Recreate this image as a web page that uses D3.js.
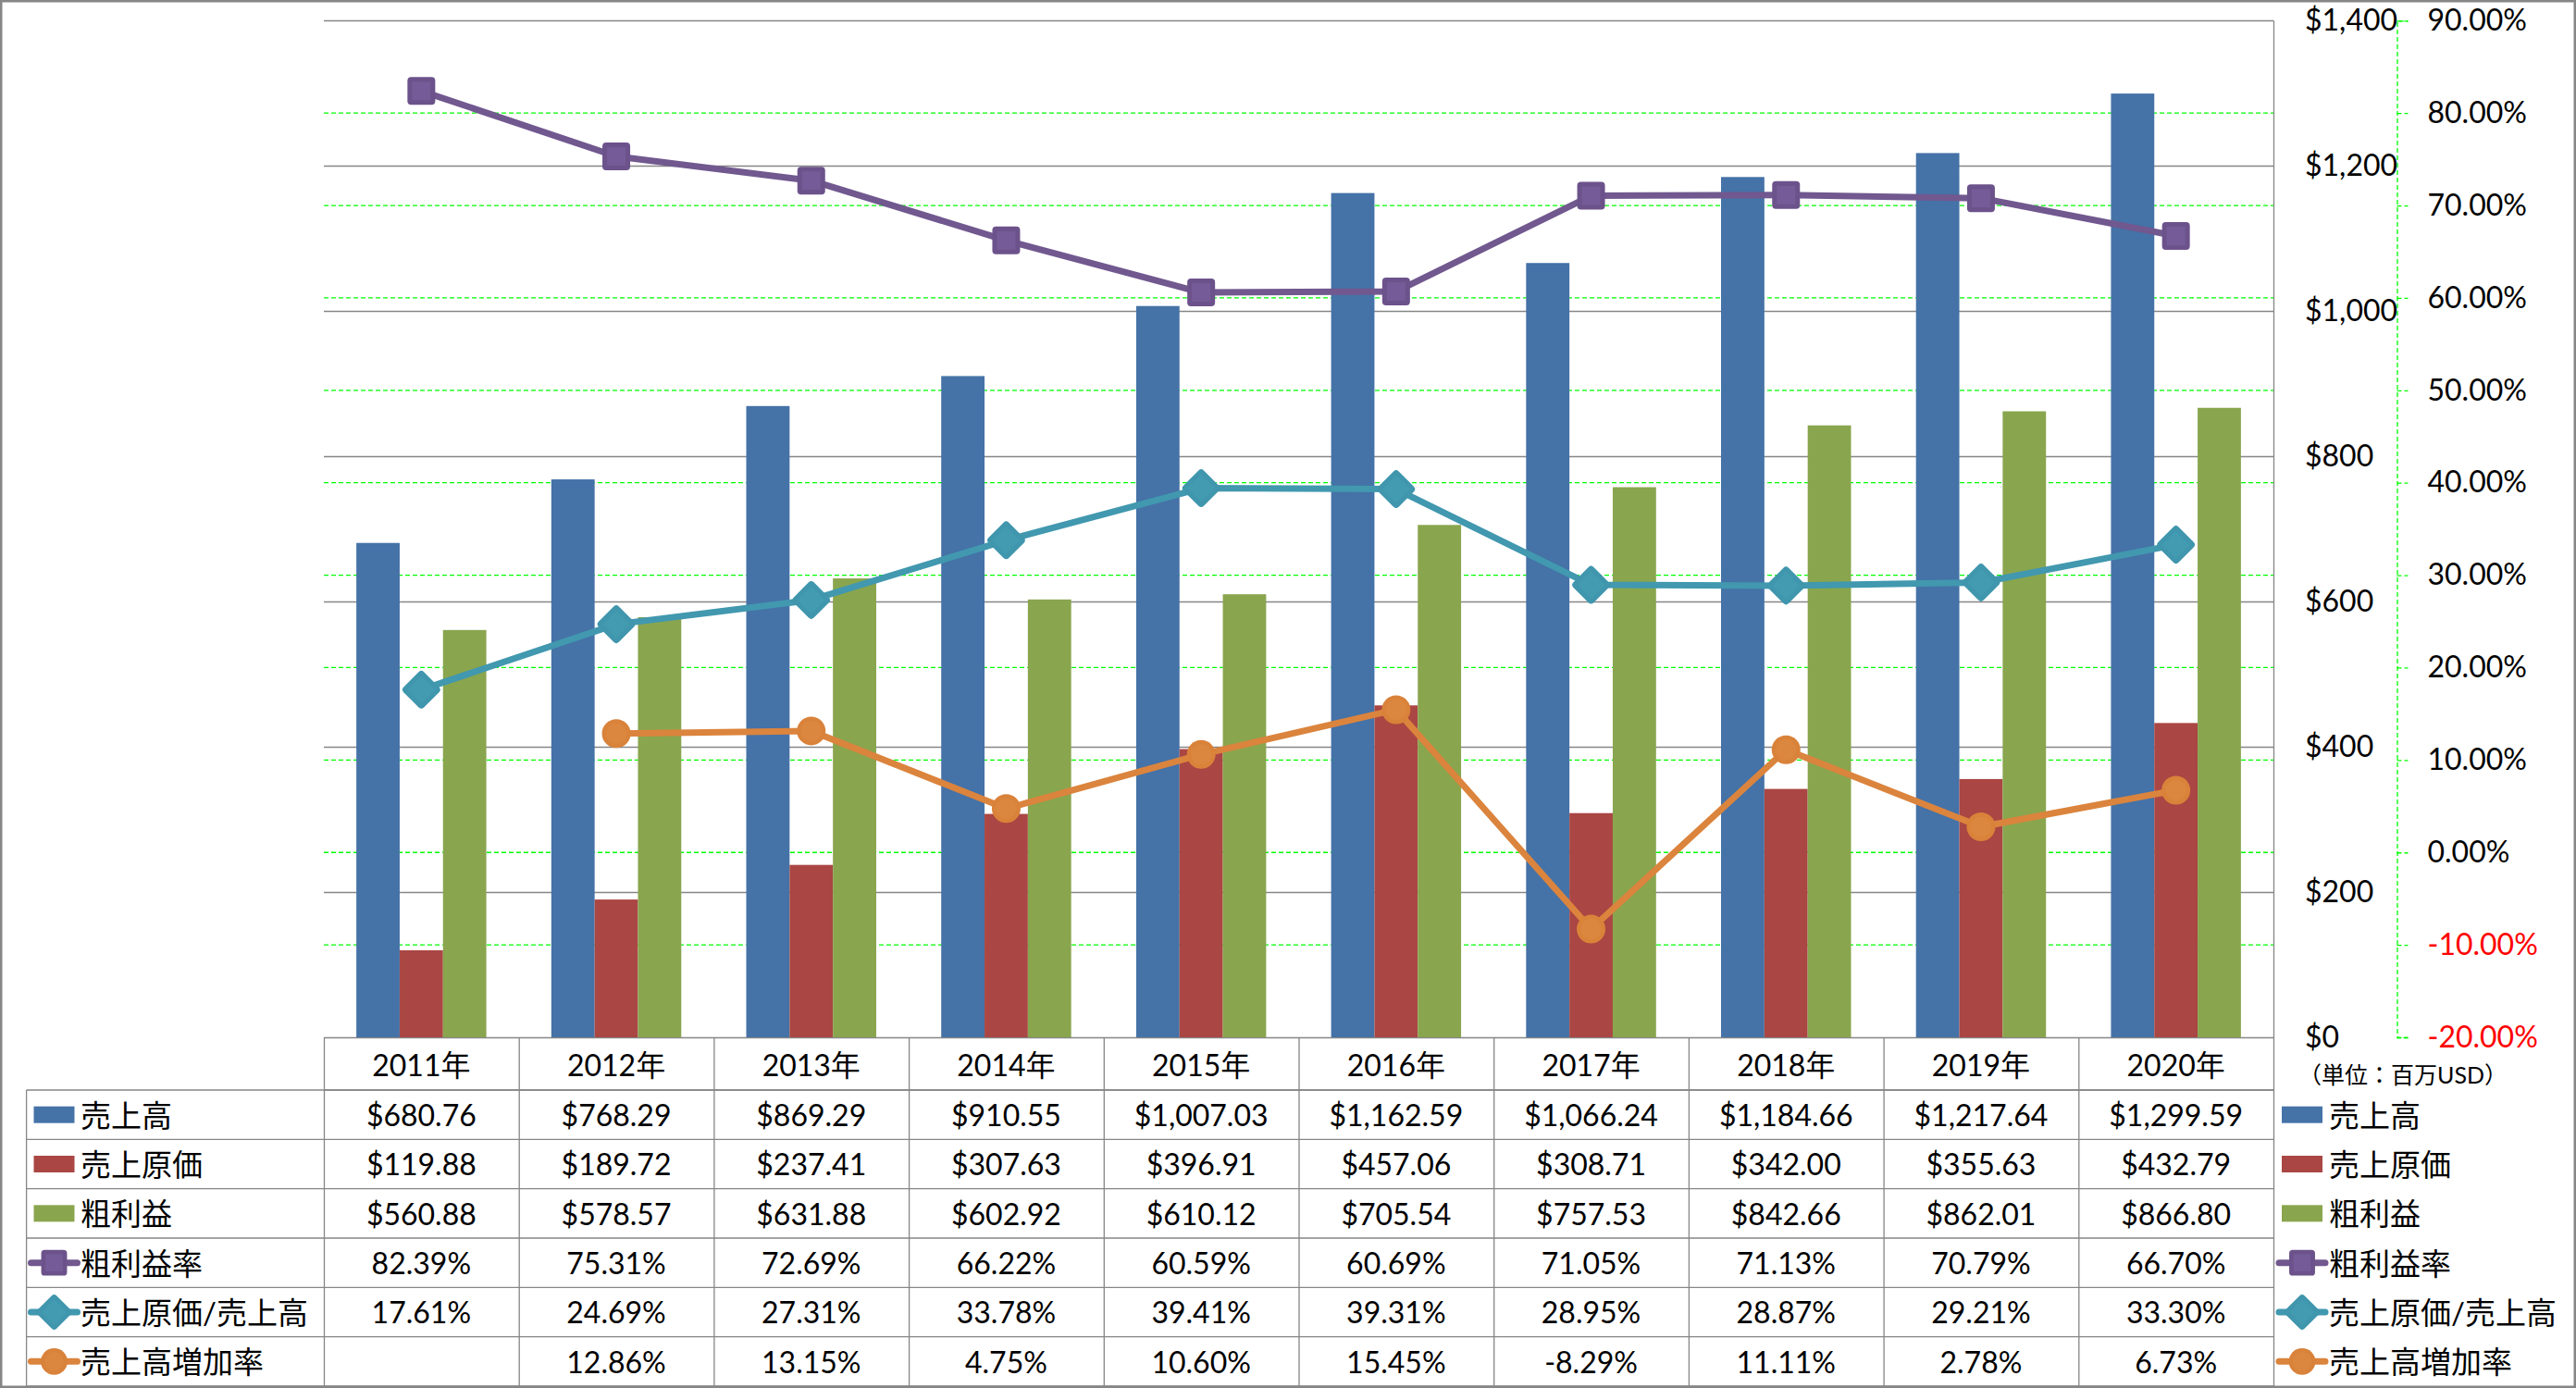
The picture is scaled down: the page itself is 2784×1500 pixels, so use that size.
<!DOCTYPE html>
<html><head><meta charset="utf-8">
<script src="https://cdn.jsdelivr.net/npm/d3@7"></script>
<style>
html,body{margin:0;padding:0;background:#fff;}
svg{display:block;}
text{font-family:Lato,"Noto Sans CJK JP",sans-serif;}
</style></head>
<body>
<svg id="chart" width="2784" height="1500"></svg>
<script>
// ---------- DATA ----------
const years = ["2011年","2012年","2013年","2014年","2015年","2016年","2017年","2018年","2019年","2020年"];
const sales = [680.76, 768.29, 869.29, 910.55, 1007.03, 1162.59, 1066.24, 1184.66, 1217.64, 1299.59];
const cogs = [119.88, 189.72, 237.41, 307.63, 396.91, 457.06, 308.71, 342.00, 355.63, 432.79];
const gross = [560.88, 578.57, 631.88, 602.92, 610.12, 705.54, 757.53, 842.66, 862.01, 866.80];
const grossMargin = [82.39, 75.31, 72.69, 66.22, 60.59, 60.69, 71.05, 71.13, 70.79, 66.70];
const cogsRatio = [17.61, 24.69, 27.31, 33.78, 39.41, 39.31, 28.95, 28.87, 29.21, 33.30];
const salesGrowth = [null, 12.86, 13.15, 4.75, 10.60, 15.45, -8.29, 11.11, 2.78, 6.73];
const barNames = ["売上高","売上原価","粗利益"];
const lineNames = ["粗利益率","売上原価/売上高","売上高増加率"];
const dollarTicks = [0, 200, 400, 600, 800, 1000, 1200, 1400];
const pctTicks = [-20, -10, 0, 10, 20, 30, 40, 50, 60, 70, 80, 90];
const unitLabel = "（単位：百万USD）";

// ---------- STYLE ----------
const barColors = ["#4572a7", "#aa4643", "#89a54e"];
const lineColors = ["#71588f", "#4198af", "#db843d"];
const gridGray = "#868686";
const gridGreen = "#00ff00";

const svg = d3.select("#chart");
const W = 2784, H = 1500;
const plotL = 350, plotR = 2457, plotT = 22.3, plotB = 1121;
const headerB = 1178, tableB = 1498;
const rowH = (tableB - headerB) / 6;
const labelL = 28.6;

const x = d3.scaleBand().domain(years).range([plotL, plotR]);
const xi = d3.scaleBand().domain(barNames).range([0, x.bandwidth()]).paddingInner(0).paddingOuter(0.75);
const yL = d3.scaleLinear().domain([0, 1400]).range([plotB, plotT]);
const yR = d3.scaleLinear().domain([-20, 90]).range([plotB, plotT]);

const barSeries = [sales, cogs, gross];
const lineSeries = [grossMargin, cogsRatio, salesGrowth];

svg.append("rect").attr("width", W).attr("height", H).attr("fill", "#fff");

// green dashed gridlines (percent axis)
svg.append("g").selectAll("line").data(pctTicks.filter(d => d > -20 && d < 90)).join("line")
  .attr("x1", plotL).attr("x2", plotR)
  .attr("y1", d => yR(d)).attr("y2", d => yR(d))
  .attr("stroke", gridGreen).attr("stroke-width", 1.3).attr("stroke-dasharray", "5,3");

// gray gridlines (dollar axis)
svg.append("g").selectAll("line").data(dollarTicks).join("line")
  .attr("x1", plotL).attr("x2", plotR)
  .attr("y1", d => Math.round(yL(d)) + 0.5).attr("y2", d => Math.round(yL(d)) + 0.5)
  .attr("stroke", gridGray).attr("stroke-width", 1.3);

// bars
barSeries.forEach((vals, si) => {
  svg.append("g").selectAll("rect").data(vals).join("rect")
    .attr("x", (d, i) => x(years[i]) + xi(barNames[si]))
    .attr("width", xi.bandwidth())
    .attr("y", d => yL(d))
    .attr("height", d => plotB - yL(d))
    .attr("fill", barColors[si]);
});

// plot right edge line
svg.append("line").attr("x1", plotR + 0.5).attr("x2", plotR + 0.5).attr("y1", plotT).attr("y2", tableB)
  .attr("stroke", gridGray).attr("stroke-width", 1.3);

// marker drawers
function drawMarker(g, type, cx, cy, color, s) {
  s = s || 1;
  if (type === 0) {
    const a = 30 * s;
    g.append("rect").attr("x", cx - a / 2).attr("y", cy - a / 2).attr("width", a).attr("height", a)
      .attr("rx", 4 * s).attr("fill", "#6c528b");
    g.append("rect").attr("x", cx - a / 2 + 5 * s).attr("y", cy - a / 2 + 5 * s).attr("width", a - 10 * s).attr("height", a - 10 * s)
      .attr("fill", "#755b97");
  } else if (type === 1) {
    const a = 31 * s;
    g.append("rect").attr("x", -a / 2).attr("y", -a / 2).attr("width", a).attr("height", a)
      .attr("rx", 4 * s).attr("fill", "#3f96ad")
      .attr("transform", `translate(${cx},${cy}) rotate(45)`);
    g.append("rect").attr("x", -a / 2 + 5 * s).attr("y", -a / 2 + 5 * s).attr("width", a - 10 * s).attr("height", a - 10 * s)
      .attr("fill", "#439bb2")
      .attr("transform", `translate(${cx},${cy}) rotate(45)`);
  } else {
    g.append("circle").attr("cx", cx).attr("cy", cy).attr("r", 15.5 * s).attr("fill", "#d9823a");
    g.append("circle").attr("cx", cx).attr("cy", cy).attr("r", 11 * s).attr("fill", "#dc873f");
  }
}

// lines
lineSeries.forEach((vals, si) => {
  const pts = vals.map((v, i) => ({ v, i })).filter(p => p.v !== null);
  const line = d3.line().x(p => x(years[p.i]) + x.bandwidth() / 2).y(p => yR(p.v));
  svg.append("path").datum(pts).attr("d", line).attr("fill", "none")
    .attr("stroke", lineColors[si]).attr("stroke-width", 7).attr("stroke-linejoin", "round");
  const g = svg.append("g");
  pts.forEach(p => drawMarker(g, si, x(years[p.i]) + x.bandwidth() / 2, yR(p.v), lineColors[si]));
});

// dollar axis labels (left aligned)
const axL = svg.append("g").attr("transform", "translate(2491,0)")
  .call(d3.axisRight(yL).tickValues(dollarTicks).tickSize(0).tickPadding(0).tickFormat(d3.format("$,")));
axL.select(".domain").remove();
axL.selectAll("text").attr("font-size", 32).attr("fill", "#000").attr("font-family", "Lato,'Noto Sans CJK JP',sans-serif");

// percent axis
const axR = svg.append("g").attr("transform", "translate(2590.5,0)")
  .call(d3.axisRight(yR).tickValues(pctTicks).tickSize(12).tickPadding(21).tickFormat(d => d.toFixed(2) + "%"));
axR.select(".domain").attr("stroke", gridGreen).attr("stroke-width", 1.3).attr("stroke-dasharray", "5,3");
axR.selectAll(".tick line").attr("stroke", gridGreen).attr("stroke-width", 1.3).attr("stroke-dasharray", "5,3");
axR.selectAll("text").attr("font-size", 32).attr("font-family", "Lato,'Noto Sans CJK JP',sans-serif")
  .attr("fill", d => d < 0 ? "#ff0000" : "#000");

// unit label
svg.append("text").attr("x", 2484).attr("y", 1162).attr("dy", "0.35em")
  .attr("font-size", 25).attr("font-family", "'Noto Sans CJK JP',sans-serif").text(unitLabel);

// ---------- DATA TABLE ----------
const tg = svg.append("g");
const lineAttr = sel => sel.attr("stroke", gridGray).attr("stroke-width", 1.3);
// header row lines
lineAttr(tg.append("line").attr("x1", plotL).attr("x2", plotR).attr("y1", headerB).attr("y2", headerB));
for (let r = 0; r <= 6; r++) {
  const yy = headerB + r * rowH;
  lineAttr(tg.append("line").attr("x1", labelL).attr("x2", plotR).attr("y1", yy).attr("y2", yy));
}
lineAttr(tg.append("line").attr("x1", labelL).attr("x2", labelL).attr("y1", headerB).attr("y2", tableB));
years.forEach(yv => {
  lineAttr(tg.append("line").attr("x1", x(yv) + 0.5).attr("x2", x(yv) + 0.5).attr("y1", plotB).attr("y2", tableB));
});

// header texts
tg.selectAll("text.hdr").data(years).join("text").attr("class", "hdr")
  .attr("x", d => x(d) + x.bandwidth() / 2).attr("y", (plotB + headerB) / 2 + 2).attr("dy", "0.35em")
  .attr("text-anchor", "middle").attr("font-size", 32).text(d => d);

const fmtD = d3.format("$,.2f");
const fmtP = d => d === null ? "" : d.toFixed(2) + "%";
const rows = [
  { vals: sales, f: fmtD }, { vals: cogs, f: fmtD }, { vals: gross, f: fmtD },
  { vals: grossMargin, f: fmtP }, { vals: cogsRatio, f: fmtP }, { vals: salesGrowth, f: fmtP }
];
rows.forEach((row, r) => {
  const cy = headerB + (r + 0.5) * rowH;
  tg.append("g").selectAll("text").data(row.vals).join("text")
    .attr("x", (d, i) => x(years[i]) + x.bandwidth() / 2).attr("y", cy + 1).attr("dy", "0.35em")
    .attr("text-anchor", "middle").attr("font-size", 32).text(d => row.f(d));
});

// legend keys (table left and right legend)
const allNames = barNames.concat(lineNames);
function legendKey(g, idx, cx, cy) {
  if (idx < 3) {
    g.append("rect").attr("x", cx - 22).attr("y", cy - 9).attr("width", 44).attr("height", 18).attr("fill", barColors[idx]);
  } else {
    const li = idx - 3;
    g.append("line").attr("x1", cx - 25).attr("x2", cx + 25).attr("y1", cy).attr("y2", cy)
      .attr("stroke", lineColors[li]).attr("stroke-width", 7).attr("stroke-linecap", "round");
    drawMarker(g, li, cx, cy, lineColors[li], 0.93);
  }
}
allNames.forEach((name, idx) => {
  const cy = headerB + (idx + 0.5) * rowH;
  const g1 = svg.append("g");
  legendKey(g1, idx, 58.5, cy);
  g1.append("text").attr("x", 87).attr("y", cy + 1).attr("dy", "0.36em").attr("font-size", 33)
    .attr("font-family", "'Noto Sans CJK JP',sans-serif").text(name);
  const g2 = svg.append("g");
  legendKey(g2, idx, 2488, cy);
  g2.append("text").attr("x", 2517).attr("y", cy + 1).attr("dy", "0.36em").attr("font-size", 33)
    .attr("font-family", "'Noto Sans CJK JP',sans-serif").text(name);
});

// chart border
svg.append("rect").attr("x", 1.25).attr("y", 1.25).attr("width", W - 2.5).attr("height", H - 2.5)
  .attr("fill", "none").attr("stroke", gridGray).attr("stroke-width", 2.5);
</script>
</body></html>
